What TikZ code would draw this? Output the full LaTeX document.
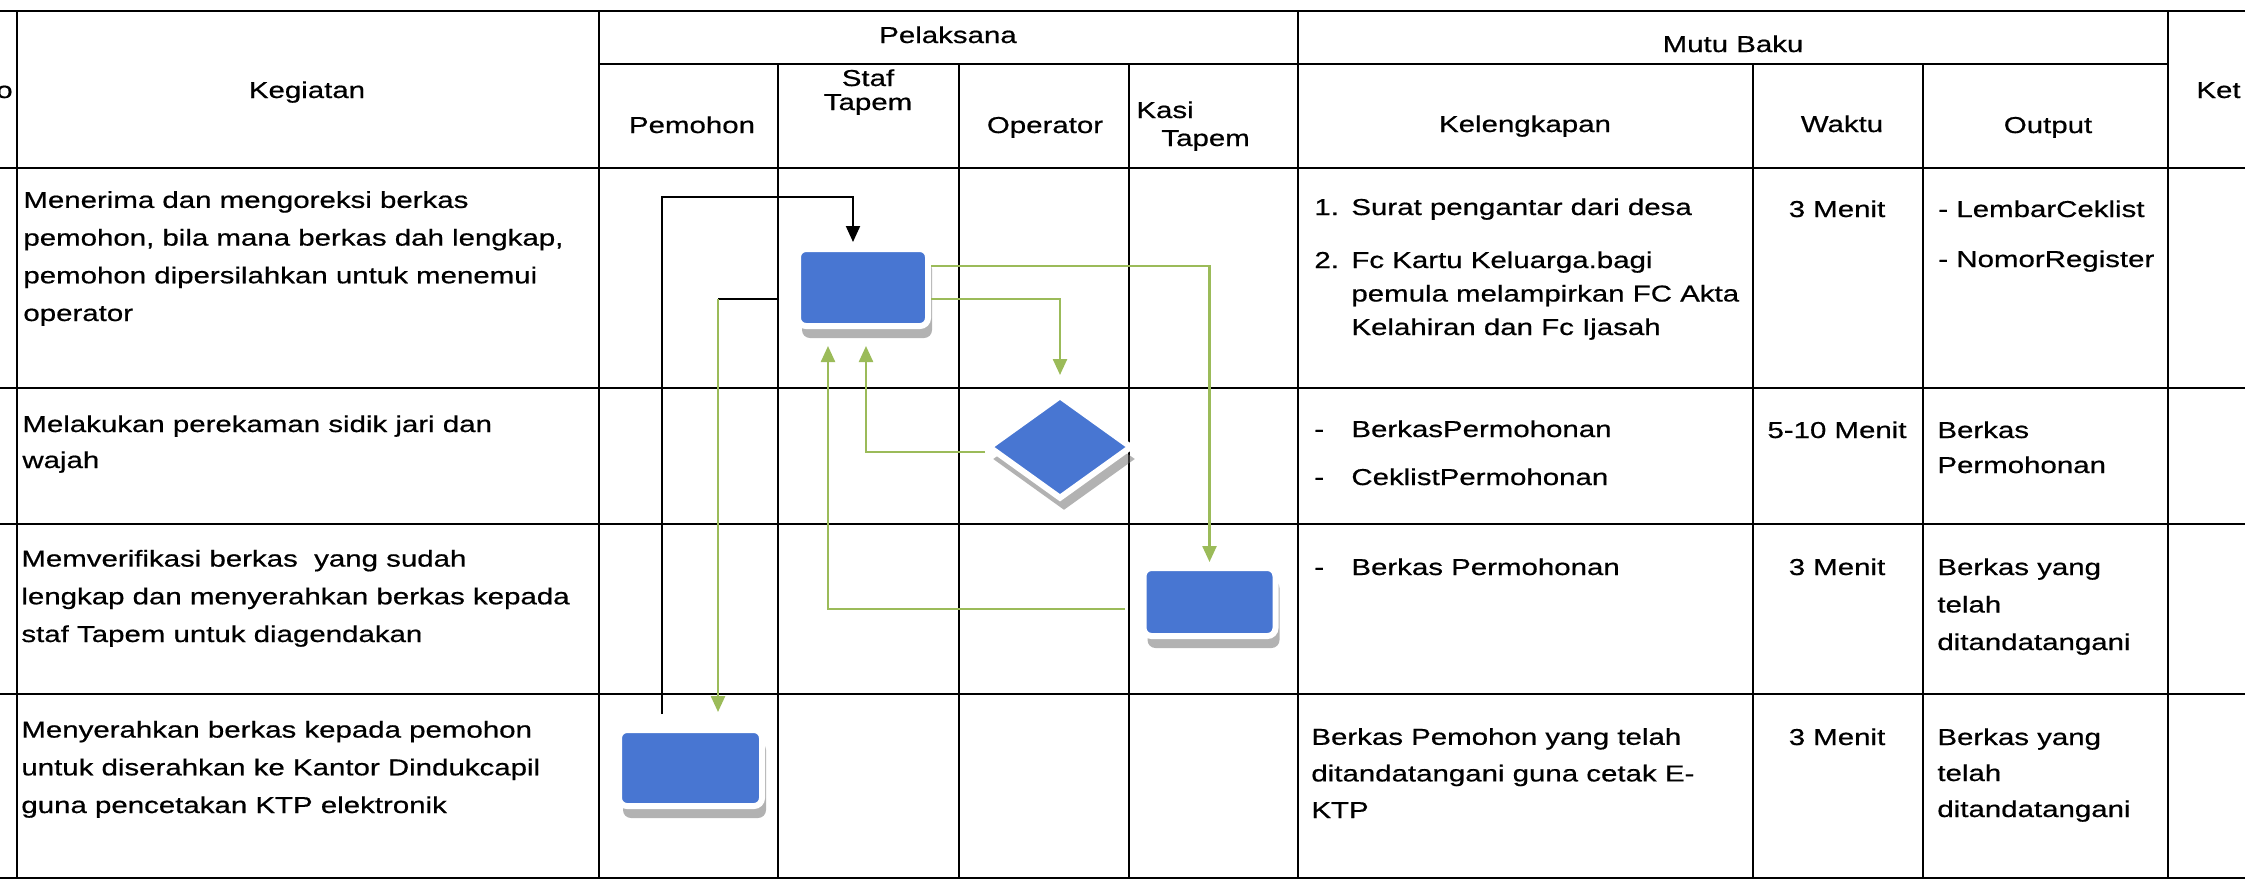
\documentclass[tikz,border=0pt]{standalone}
\usepackage{fontspec}
\setmainfont[FakeStretch=1.28,FakeBold=0.6]{Liberation Sans}
\usetikzlibrary{shapes.geometric,arrows.meta,shadows}
\definecolor{boxblue}{RGB}{72,118,210}
\definecolor{flowgreen}{RGB}{155,187,89}
\newcommand\cellfont[1]{\fontsize{11.5}{#1}\selectfont}

\begin{document}
\begin{tikzpicture}[
    x=0.5pt, y=-0.5pt,
    grid/.style={line width=1.2pt, line cap=rect},
    head/.style={anchor=base, inner sep=0pt, font=\cellfont{14}},
    cell/.style={anchor=base west, align=left, inner sep=0pt, font=\cellfont{18.85}},
    waktu/.style={anchor=base, inner sep=0pt, font=\cellfont{14}},
    task/.style={rectangle, rounded corners=4pt, fill=boxblue, draw=white, line width=3pt, inner sep=0pt,
        drop shadow={shadow xshift=2pt, shadow yshift=-6pt, fill=black!60}},
    check/.style={diamond, fill=boxblue, draw=white, line width=3pt, inner sep=0pt,
        minimum width=72pt, minimum height=52pt,
        drop shadow={shadow xshift=2pt, shadow yshift=-6pt, fill=black!60}},
    flow/.style={draw=flowgreen, line width=1.2pt, -{Triangle[length=8pt,width=7pt]}},
    back/.style={draw=black, line width=1pt, -{Triangle[length=8pt,width=7pt]}},
  ]
  \useasboundingbox (0,0) rectangle (2245,880);
  \fill[white] (0,0) rectangle (2245,880);

  % table frame
  \draw[grid] (0,11) -- (2245,11);
  \draw[grid] (599,64) -- (2168,64);
  \foreach \y in {168,388,524,694,878}
    \draw[grid] (0,\y) -- (2245,\y);
  \foreach \x in {17,599,1298,2168}
    \draw[grid] (\x,11) -- (\x,878);
  \foreach \x in {778,959,1129,1753,1923}
    \draw[grid] (\x,64) -- (\x,878);

  % header (multi-line nodes sit on their last line)
  \node[head, anchor=base east] (hNo) at (13,98) {No};
  \node[head] (hKeg) at (307,98) {Kegiatan};
  \node[head] (hPel) at (948,43) {Pelaksana};
  \node[head] (hMutu) at (1733,52) {Mutu Baku};
  \node[head] (hPem) at (692,133) {Pemohon};
  \node[head, align=center, font=\cellfont{12}] (hStaf) at (868,110) {Staf\\Tapem};
  \node[head] (hOp) at (1045,133) {Operator};
  \node[head, anchor=base west, align=left] (hKasi) at (1136,146) {Kasi\\\hspace*{12.5pt}Tapem};
  \node[head] (hLeng) at (1525,132) {Kelengkapan};
  \node[head] (hWaktu) at (1842,132) {Waktu};
  \node[head] (hOut) at (2048,133) {Output};
  \node[head, anchor=base west] (hKet) at (2196,98) {Ket};

  % kegiatan
  \node[cell] (k1) at (23,321) {Menerima dan mengoreksi berkas\\pemohon, bila mana berkas dah lengkap,\\pemohon dipersilahkan untuk menemui\\operator};
  \node[cell, font=\cellfont{18}] (k2) at (22,468) {Melakukan perekaman sidik jari dan\\wajah};
  \node[cell] (k3) at (21,642) {Memverifikasi berkas\ \ yang sudah\\lengkap dan menyerahkan berkas kepada\\staf Tapem untuk diagendakan};
  \node[cell] (k4) at (21,813) {Menyerahkan berkas kepada pemohon\\untuk diserahkan ke Kantor Dindukcapil\\guna pencetakan KTP elektronik};

  % kelengkapan
  \node[cell] (n1) at (1314,215) {1.};
  \node[cell] (l1) at (1351,215) {Surat pengantar dari desa};
  \node[cell] (n2) at (1314,268) {2.};
  \node[cell, font=\cellfont{16.75}] (l2) at (1351,335) {Fc Kartu Keluarga.bagi\\pemula melampirkan FC Akta\\Kelahiran dan Fc Ijasah};
  \node[cell] (d1) at (1314,437) {-};
  \node[cell] (l3) at (1351,437) {BerkasPermohonan};
  \node[cell] (d2) at (1314,485) {-};
  \node[cell] (l4) at (1351,485) {CeklistPermohonan};
  \node[cell] (d3) at (1314,575) {-};
  \node[cell] (l5) at (1351,575) {Berkas Permohonan};
  \node[cell, font=\cellfont{18.3}] (l6) at (1311,818) {Berkas Pemohon yang telah\\ditandatangani guna cetak E-\\KTP};

  % waktu
  \node[waktu] (w1) at (1837,217) {3 Menit};
  \node[waktu] (w2) at (1837,438) {5-10 Menit};
  \node[waktu] (w3) at (1837,575) {3 Menit};
  \node[waktu] (w4) at (1837,745) {3 Menit};

  % output
  \node[cell, font=\cellfont{25}] (o1) at (1938,267) {- LembarCeklist\\- NomorRegister};
  \node[cell, font=\cellfont{17.5}] (o2) at (1937,473) {Berkas\\Permohonan};
  \node[cell, font=\cellfont{18.75}] (o3) at (1937,650) {Berkas yang\\telah\\ditandatangani};
  \node[cell, font=\cellfont{18}] (o4) at (1937,817) {Berkas yang\\telah\\ditandatangani};

  % flow shapes
  \node[task, minimum width=65pt, minimum height=38.5pt] (staf) at (863,287.5) {};
  \node[check] (cek) at (1060,447) {};
  \node[task, minimum width=66pt, minimum height=34pt] (kasi) at (1209.5,602) {};
  \node[task, minimum width=71.5pt, minimum height=38pt] (pemohon) at (690.5,768) {};

  % connectors
  \draw[back, shorten <=6.5pt, shorten >=2pt] ([xshift=-14.25pt]pemohon.north) -- ++(0,-530) -| ([xshift=-5pt]staf.north);
  \coordinate (turn) at (718,299);
  \draw[line width=1pt, shorten <=8pt] ([yshift=-5.75pt]staf.west) -- (turn);
  \draw[flow, shorten >=7.5pt] (turn) -- (turn |- pemohon.north);
  \draw[flow, shorten >=1.5pt] ([yshift=10.75pt]staf.east) -| (kasi.north);
  \draw[flow, shorten >=8.5pt] ([yshift=-5.75pt]staf.east) -| (cek.north);
  \draw[flow, shorten >=8.5pt] ([yshift=-2.5pt]cek.west) -| ([xshift=1.5pt]staf.south);
  \draw[flow, shorten <=8pt, shorten >=8.5pt] ([yshift=-3.5pt]kasi.west) -| ([xshift=-17.5pt]staf.south);
\end{tikzpicture}
\end{document}
